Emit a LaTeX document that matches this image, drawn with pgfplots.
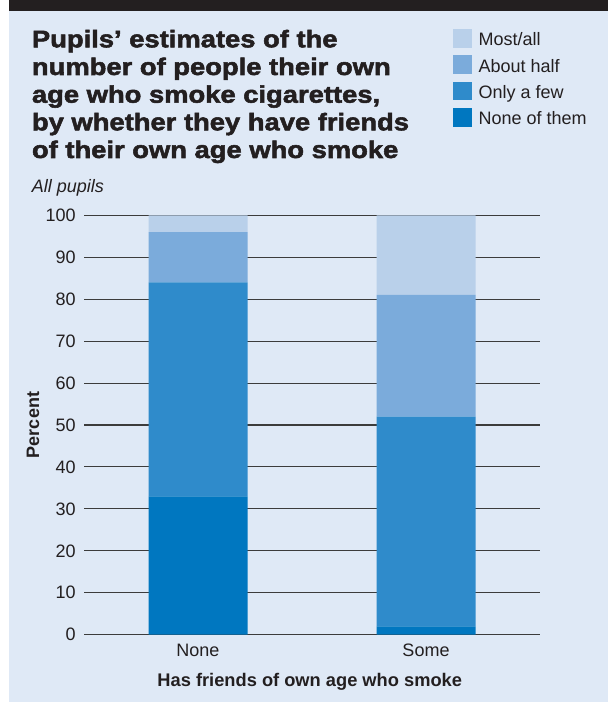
\documentclass[border=0pt]{standalone}
\usepackage{pgfplots}
\pgfplotsset{compat=1.18}
\usepackage{fontspec}
\setmainfont{Liberation Sans}
\newfontfamily\heavyfont[FakeBold=2.2,FakeStretch=1.14]{Liberation Sans Bold}

\definecolor{panelbg}{HTML}{DFE9F6}
\definecolor{inkdark}{HTML}{231F20}
\definecolor{gridc}{HTML}{3C3C3C}
\definecolor{cMost}{HTML}{B9D0EA}
\definecolor{cHalf}{HTML}{7BABDB}
\definecolor{cFew}{HTML}{2F8BCB}
\definecolor{cNone}{HTML}{0077C0}

\newcommand{\smalltext}{\fontsize{13.5}{16}\selectfont}

% standard pgfplots layers, with one extra layer underneath for the panel
% and one on top for the bars
\pgfplotsset{
  layers/panelled/.define layer set={
    panel,axis background,axis grid,axis ticks,axis lines,axis tick labels,
    main,axis descriptions,axis foreground,bars
  }{
    grid style={/pgfplots/on layer=axis grid},
    tick style={/pgfplots/on layer=axis ticks},
    axis line style={/pgfplots/on layer=axis lines},
    label style={/pgfplots/on layer=axis descriptions},
    legend style={/pgfplots/on layer=axis descriptions},
    title style={/pgfplots/on layer=axis descriptions},
    colorbar style={/pgfplots/on layer=axis descriptions},
    ticklabel style={/pgfplots/on layer=axis tick labels},
    axis background@ style={/pgfplots/on layer=axis background},
    3d box foreground style={/pgfplots/on layer=axis foreground},
  },
}

\begin{document}
\begin{tikzpicture}
\pgfplotsset{set layers=panelled}
% panel and headings, laid out in pixel-like units (y pointing down)
\begin{scope}[x=0.75pt,y=-0.75pt]
\begin{pgfonlayer}{panel}
\fill[white] (0,0) rectangle (608,702);
\fill[panelbg] (9,0) rectangle (608,702);
\fill[inkdark] (9,0) rectangle (608,10.8);
\end{pgfonlayer}
\begin{scope}[every node/.style={anchor=base west, inner sep=0pt, text=inkdark,
    font=\heavyfont\fontsize{18}{21}\selectfont}]
\node at (31.7,47.3) {Pupils’ estimates of the};
\node at (31.7,75.0) {number of people their own};
\node at (31.7,102.7) {age who smoke cigarettes,};
\node at (31.7,130.3) {by whether they have friends};
\node at (31.7,158.0) {of their own age who smoke};
\end{scope}
\node[anchor=base west, inner sep=0pt, text=inkdark, font=\smalltext\itshape] at (31.7,192.7) {All pupils};
\end{scope}

\begin{axis}[
  set layers=panelled,
  axis on top=false,
  at={(63pt,-476.025pt)}, anchor=south west,
  scale only axis, width=342pt, height=314.55pt,
  xmin=-0.5, xmax=1.5, ymin=0, ymax=100,
  ybar stacked, bar width=74.25pt,
  every axis plot/.append style={/pgfplots/on layer=bars},
  xtick={0,1}, xticklabels={None,Some},
  ytick={0,10,...,100},
  ymajorgrids, grid style={line width=0.8pt, color=gridc},
  axis line style={draw=none},
  major tick length=0pt,
  /pgf/number format/assume math mode=true,
  tick label style={font=\smalltext, text=inkdark},
  yticklabel style={anchor=east, inner sep=0pt, xshift=-6pt},
  xticklabel style={anchor=base, inner sep=0pt, yshift=-16.5pt},
  xlabel={Has friends of own age who smoke},
  ylabel={Percent},
  every axis x label/.style={at={(axis description cs:0.495,-0.124)}, anchor=base,
    inner sep=0pt, font=\fontsize{13.7}{16}\selectfont\bfseries, text=inkdark},
  every axis y label/.style={at={(axis description cs:-0.1118,0.5)}, anchor=center, rotate=90,
    inner sep=0pt, font=\fontsize{13.5}{16}\selectfont\bfseries, text=inkdark},
  reverse legend,
  legend style={at={(axis description cs:0.809,1.444)}, anchor=north west,
    draw=none, fill=none, inner sep=0pt, outer sep=0pt,
    row sep=5.75pt, column sep=5.25pt, font=\smalltext, text=inkdark,
    nodes={inner sep=0pt, text depth=0pt},
    cells={anchor=base west}},
  legend image code/.code={\fill[#1] (0pt,-1.5pt) rectangle (14pt,12.5pt);},
]
\addplot[fill=cNone, draw=none] coordinates {(0,33) (1,2)};
\addplot[fill=cFew,  draw=none] coordinates {(0,51) (1,50)};
\addplot[fill=cHalf, draw=none] coordinates {(0,12) (1,29)};
\addplot[fill=cMost, draw=none] coordinates {(0,4)  (1,19)};
\legend{None of them, Only a few, About half, Most/all}
\end{axis}

\pgfresetboundingbox
\path[use as bounding box] (0,0) rectangle (456pt,-526.5pt);
\end{tikzpicture}
\end{document}
